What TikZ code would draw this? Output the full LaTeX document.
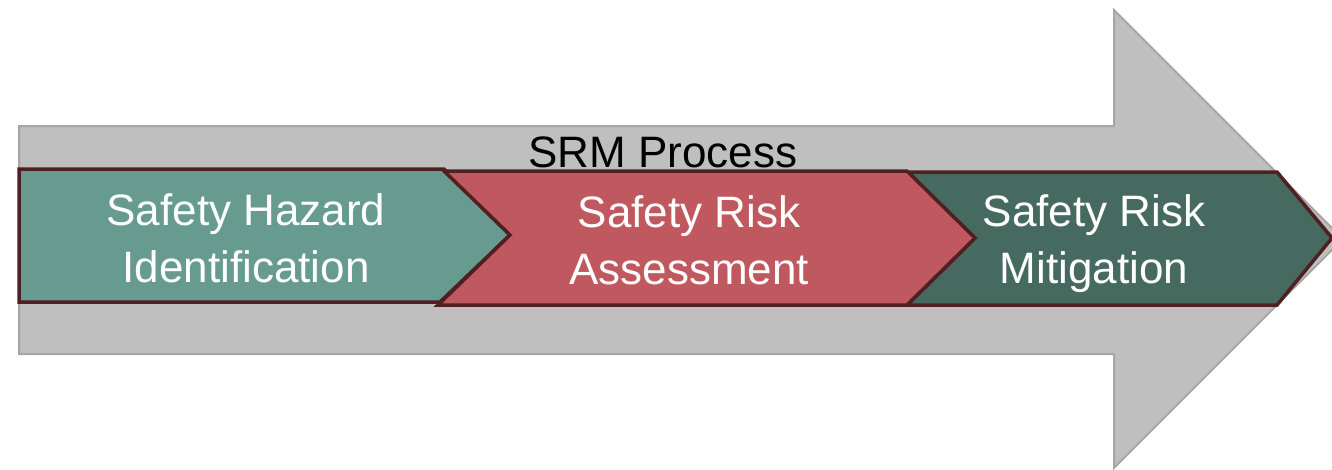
\documentclass[tikz,border=0pt]{standalone}
\usepackage{fontspec}
\setmainfont{Liberation Sans}
\usepackage{xcolor}
\usetikzlibrary{positioning}

\definecolor{arrowgray}{HTML}{BFBFBF}
\definecolor{arrowedge}{HTML}{A6A6A6}
\definecolor{stepteal}{HTML}{679B8F}
\definecolor{stepred}{HTML}{C0595F}
\definecolor{stepgreen}{HTML}{466A60}
\definecolor{stepedge}{HTML}{4F1F22}

\begin{document}
\begin{tikzpicture}[
    x=1pt, y=-1pt,
    bigarrow/.style={fill=arrowgray, draw=arrowedge, line width=2pt, line join=miter},
    chevron/.style={draw=stepedge, line width=3.5pt, line join=miter},
    steptext/.style={text=white, align=center, font=\fontsize{44}{57}\selectfont},
    title/.style={text=black, font=\fontsize{44}{50}\selectfont, anchor=base},
]
    \useasboundingbox (0,0) rectangle (1332,469);

    % process arrow in the background
    \draw[bigarrow] (19,126) -- (1114,126) -- (1114,10) -- (1343,239)
        -- (1114,468) -- (1114,354) -- (19,354) -- cycle;

    % three steps
    \draw[chevron, fill=stepteal] (19,169) -- (444,169) -- (510,235)
        -- (440,302) -- (19,302) -- cycle;
    \draw[chevron, fill=stepgreen] (907,172) -- (1277,172) -- (1332,238)
        -- (1277,305) -- (907,305) -- (975,238) -- cycle;
    \draw[chevron, fill=stepred] (444,171) -- (907,171) -- (975,238)
        -- (907,305) -- (438,305) -- (510,235) -- cycle;

    \node[title] (srm) at (663,167) {SRM Process};
    \node[steptext] (hazard) at (246,238) {Safety Hazard\\Identification};
    \node[steptext] (assess) at (689,240) {Safety Risk\\Assessment};
    \node[steptext] (mitig) at (1094,244) {Safety Risk\\Mitigation};
\end{tikzpicture}
\end{document}
